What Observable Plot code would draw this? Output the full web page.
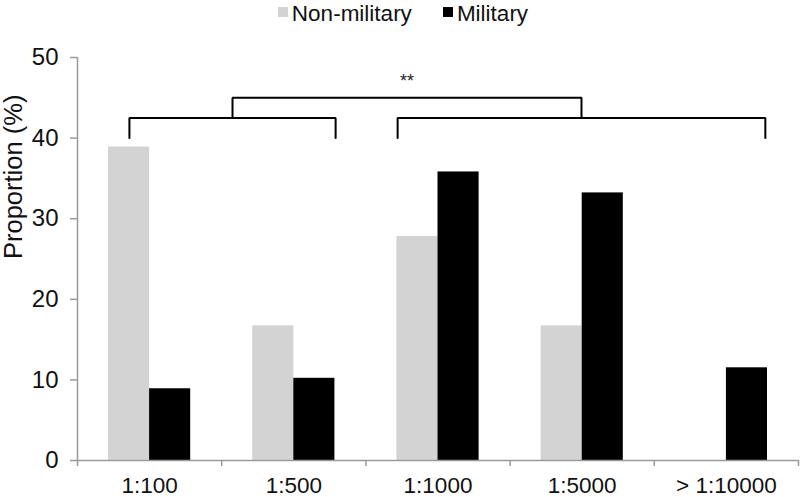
<!DOCTYPE html>
<html>
<head>
<meta charset="utf-8">
<script src="https://cdn.jsdelivr.net/npm/d3@7"></script>
<script src="https://cdn.jsdelivr.net/npm/@observablehq/plot@0.6"></script>
<style>
  html, body { margin: 0; padding: 0; background: #fff; }
  body { width: 800px; height: 497px; overflow: hidden; font-family: "Liberation Sans", Arial, sans-serif; }
  #legend { height: 30px; display: flex; justify-content: center; align-items: flex-start; gap: 31px;
            font-size: 22.5px; line-height: 27px; color: #111; padding-left: 6px; box-sizing: border-box; }
  #legend .item { display: flex; align-items: flex-start; }
  #legend .sw { width: 10px; height: 10px; margin-top: 7px; margin-right: 4px; }
</style>
</head>
<body>
<div id="legend"></div>
<div id="chart"></div>
<script>
// ---- data ----
const categories = ["1:100", "1:500", "1:1000", "1:5000", "> 1:10000"];
const seriesNames = ["Non-military", "Military"];
const nonMilitary = [38.9, 16.7, 27.8, 16.7, 0];
const military = [8.9, 10.2, 35.8, 33.2, 11.5];
const seriesColors = ["#d3d3d3", "#000000"];
const yTicks = [0, 10, 20, 30, 40, 50];
const yLabel = "Proportion (%)";
// significance brackets (x in category-index units, y in %)
const bracketSpans = [[0.36, 1.79], [2.22, 4.77]];
const bracketLevels = [40, 42.5, 45];
const sigLabel = "**";
const sigY = 47.0;

// ---- table ----
const values = [nonMilitary, military];
const rows = categories.flatMap((c, i) =>
  seriesNames.map((s, k) => ({category: c, i, k, series: s, value: values[k][i]})));

const barWidth = 0.285;
const [bBase, bMid, bTop] = bracketLevels;
const mids = bracketSpans.map(([a, b]) => (a + b) / 2);
const bracketPaths = [
  ...bracketSpans.flatMap(([a, b], j) => [
    {id: j, x: a, y: bBase}, {id: j, x: a, y: bMid}, {id: j, x: b, y: bMid}, {id: j, x: b, y: bBase}
  ]),
  {id: "top", x: mids[0], y: bMid}, {id: "top", x: mids[0], y: bTop},
  {id: "top", x: mids[1], y: bTop}, {id: "top", x: mids[1], y: bMid}
];

// ---- legend ----
const legend = document.getElementById("legend");
seriesNames.forEach((s, k) => {
  const it = document.createElement("div");
  it.className = "item";
  const sw = document.createElement("span");
  sw.className = "sw";
  sw.style.background = seriesColors[k];
  const t = document.createElement("span");
  t.textContent = s;
  it.append(sw, t);
  legend.append(it);
});

// ---- chart ----
const axisGray = "#9a9a9a";
const chart = Plot.plot({
  width: 800,
  height: 467,
  marginLeft: 77,
  marginRight: 2,
  marginTop: 27,
  marginBottom: 37,
  style: {fontFamily: "Liberation Sans, Arial, sans-serif", fontSize: "23px", color: "#111", background: "#fff"},
  x: {domain: [0, categories.length]},
  y: {domain: [0, 50]},
  color: {domain: seriesNames, range: seriesColors},
  marks: [
    Plot.rectY(rows, {
      x1: d => d.i + 0.5 + (d.k === 0 ? -barWidth : 0),
      x2: d => d.i + 0.5 + (d.k === 0 ? 0 : barWidth),
      y: "value",
      fill: "series"
    }),
    Plot.ruleY([0], {stroke: axisGray, strokeWidth: 1.5}),
    Plot.ruleX([0], {y1: 0, y2: 50, stroke: axisGray, strokeWidth: 1.5}),
    Plot.axisY({ticks: yTicks, tickSize: 7, tickPadding: 12, stroke: axisGray, strokeWidth: 1.5,
                fill: "#111", fontSize: 24, label: null}),
    Plot.axisX({ticks: d3.range(categories.length + 1), tickSize: 6, tickFormat: () => "", stroke: axisGray, strokeWidth: 1.5, label: null}),
    Plot.axisX({ticks: categories.map((c, i) => i + 0.5), tickSize: 0, tickPadding: 17,
                tickFormat: v => categories[Math.floor(v)], fill: "#111", fontSize: 22.5, label: null}),
    Plot.text([yLabel], {text: d => d, frameAnchor: "left", rotate: -90, dx: -64, fontSize: 25.5, fill: "#111"}),
    Plot.line(bracketPaths, {x: "x", y: "y", z: "id", stroke: "#000", strokeWidth: 2, strokeLinejoin: "miter", curve: "linear"}),
    Plot.text([sigLabel], {text: d => d, x: (mids[0] + mids[1]) / 2, y: sigY, fontSize: 18, fill: "#222"})
  ]
});
document.getElementById("chart").append(chart);
</script>
</body>
</html>
